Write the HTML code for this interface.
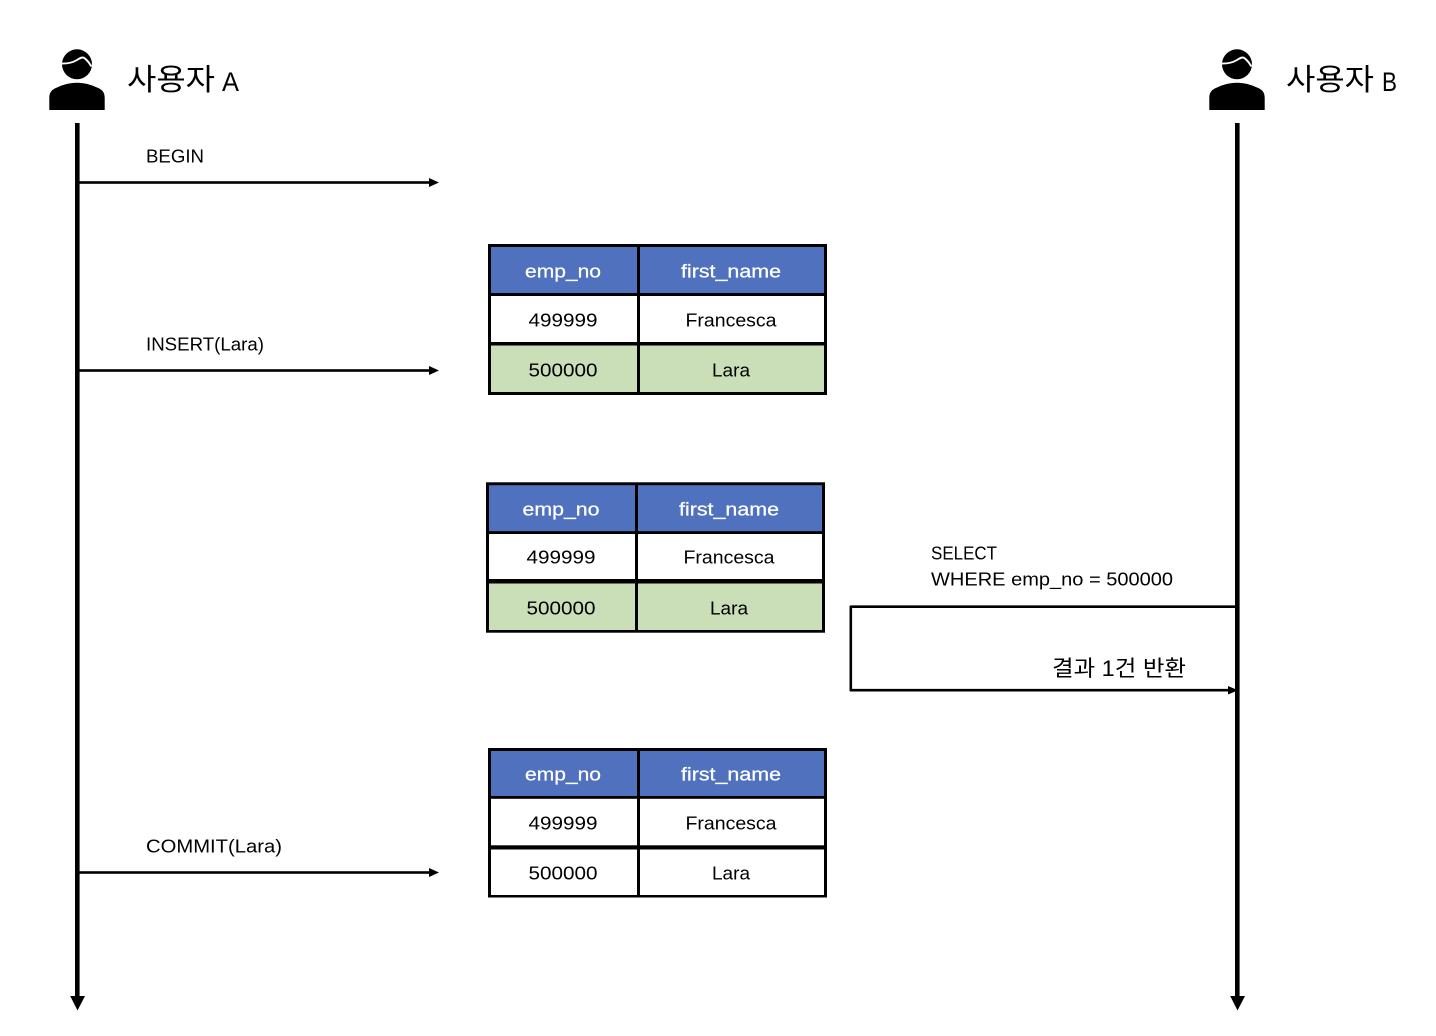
<!DOCTYPE html>
<html>
<head>
<meta charset="utf-8">
<style>
html,body{margin:0;padding:0;background:#fff;width:1436px;height:1036px;overflow:hidden}
svg{display:block}
text{font-family:"Liberation Sans","Noto Sans CJK KR",sans-serif;fill:#000}
.t{font-size:18.5px}
.c{font-size:18.5px;text-anchor:middle}
.h{font-size:18.5px;text-anchor:middle;fill:#fff;stroke:#fff;stroke-width:.25px}
.k{font-size:30px}
.l{font-size:27px}
</style>
</head>
<body>
<svg width="1436" height="1036" viewBox="0 0 1436 1036" xmlns="http://www.w3.org/2000/svg">
<defs>
<g id="person">
<circle cx="77" cy="64.3" r="15"/>
<path d="M49.3 110V98C49.3 92 52 89.5 57 87.5C63 84.5 70 82.7 77 82.7C84 82.7 91 84.5 97 87.5C102 89.5 104.7 92 104.7 98V110Z"/>
<path d="M62 63.6C68 63.6 73 62.5 77 60C80 58 82 56.8 84 57.8C86.5 59.5 89 62.5 91.5 66.5" fill="none" stroke="#fff" stroke-width="1.9"/>
</g>
</defs>

<!-- actors -->
<use href="#person"/>
<use href="#person" x="1160"/>
<text class="k" x="127" y="90" textLength="88" lengthAdjust="spacingAndGlyphs">사용자</text>
<text class="l" x="222" y="91" textLength="17" lengthAdjust="spacingAndGlyphs">A</text>
<text class="k" x="1286" y="90" textLength="88" lengthAdjust="spacingAndGlyphs">사용자</text>
<text class="l" x="1382" y="91" textLength="15" lengthAdjust="spacingAndGlyphs">B</text>

<!-- lifelines -->
<rect x="75" y="123" width="4.6" height="875"/>
<path d="M70.2 996H85L77.5 1010.5Z"/>
<rect x="1235" y="123" width="4.6" height="875"/>
<path d="M1230.2 996H1245L1237.5 1010.5Z"/>

<!-- arrows from A -->
<g>
<rect x="78" y="181.2" width="353" height="2.6"/><path d="M429 178L439 182.5L429 187Z"/>
<rect x="78" y="369.2" width="353" height="2.6"/><path d="M429 366L439 370.5L429 375Z"/>
<rect x="78" y="871.2" width="353" height="2.6"/><path d="M429 868L439 872.5L429 877Z"/>
</g>
<text class="t" x="146" y="162.5" textLength="58" lengthAdjust="spacingAndGlyphs">BEGIN</text>
<text class="t" x="146" y="350.5" textLength="118" lengthAdjust="spacingAndGlyphs">INSERT(Lara)</text>
<text class="t" x="146" y="852.5" textLength="136" lengthAdjust="spacingAndGlyphs">COMMIT(Lara)</text>

<!-- table 1 -->
<rect x="488" y="244" width="339" height="151"/>
<rect x="491" y="247" width="146" height="46" fill="#4f71be"/>
<rect x="640" y="247" width="184" height="46" fill="#4f71be"/>
<rect x="491" y="296" width="146" height="46" fill="#fff"/>
<rect x="640" y="296" width="184" height="46" fill="#fff"/>
<rect x="491" y="345.5" width="146" height="46.5" fill="#cadeb8"/>
<rect x="640" y="345.5" width="184" height="46.5" fill="#cadeb8"/>
<text class="h" x="563" y="277.5" textLength="76" lengthAdjust="spacingAndGlyphs">emp_no</text>
<text class="h" x="731" y="277.5" textLength="100" lengthAdjust="spacingAndGlyphs">first_name</text>
<text class="c" x="563" y="326.5" textLength="69" lengthAdjust="spacingAndGlyphs">499999</text>
<text class="c" x="731" y="326.5" textLength="91" lengthAdjust="spacingAndGlyphs">Francesca</text>
<text class="c" x="563" y="376.5" textLength="69" lengthAdjust="spacingAndGlyphs">500000</text>
<text class="c" x="731" y="376.5" textLength="38" lengthAdjust="spacingAndGlyphs">Lara</text>

<!-- table 2 -->
<rect x="486" y="482.3" width="339" height="150.4"/>
<rect x="489" y="485.2" width="146" height="46" fill="#4f71be"/>
<rect x="638" y="485.2" width="184" height="46" fill="#4f71be"/>
<rect x="489" y="534" width="146" height="45" fill="#fff"/>
<rect x="638" y="534" width="184" height="45" fill="#fff"/>
<rect x="489" y="583.5" width="146" height="46.5" fill="#cadeb8"/>
<rect x="638" y="583.5" width="184" height="46.5" fill="#cadeb8"/>
<text class="h" x="561" y="515.5" textLength="77" lengthAdjust="spacingAndGlyphs">emp_no</text>
<text class="h" x="729" y="515.5" textLength="100" lengthAdjust="spacingAndGlyphs">first_name</text>
<text class="c" x="561" y="563.5" textLength="69" lengthAdjust="spacingAndGlyphs">499999</text>
<text class="c" x="729" y="563.5" textLength="91" lengthAdjust="spacingAndGlyphs">Francesca</text>
<text class="c" x="561" y="614.5" textLength="69" lengthAdjust="spacingAndGlyphs">500000</text>
<text class="c" x="729" y="614.5" textLength="38" lengthAdjust="spacingAndGlyphs">Lara</text>

<!-- table 3 -->
<rect x="488" y="748" width="339" height="149.5"/>
<rect x="491" y="751" width="146" height="45" fill="#4f71be"/>
<rect x="640" y="751" width="184" height="45" fill="#4f71be"/>
<rect x="491" y="798.8" width="146" height="46.5" fill="#fff"/>
<rect x="640" y="798.8" width="184" height="46.5" fill="#fff"/>
<rect x="491" y="849.5" width="146" height="45.5" fill="#fff"/>
<rect x="640" y="849.5" width="184" height="45.5" fill="#fff"/>
<text class="h" x="563" y="780.5" textLength="76" lengthAdjust="spacingAndGlyphs">emp_no</text>
<text class="h" x="731" y="780.5" textLength="100" lengthAdjust="spacingAndGlyphs">first_name</text>
<text class="c" x="563" y="829.5" textLength="69" lengthAdjust="spacingAndGlyphs">499999</text>
<text class="c" x="731" y="829.5" textLength="91" lengthAdjust="spacingAndGlyphs">Francesca</text>
<text class="c" x="563" y="879.5" textLength="69" lengthAdjust="spacingAndGlyphs">500000</text>
<text class="c" x="731" y="879.5" textLength="38" lengthAdjust="spacingAndGlyphs">Lara</text>

<!-- select / result -->
<path d="M1236 606.7H850.8V690.2H1230" fill="none" stroke="#000" stroke-width="2.6" stroke-linejoin="round"/>
<path d="M1228 686L1238 690.3L1228 694.5Z"/>
<text class="t" x="931" y="559.5" textLength="66" lengthAdjust="spacingAndGlyphs">SELECT</text>
<text class="t" x="931" y="585.5" textLength="242" lengthAdjust="spacingAndGlyphs">WHERE emp_no = 500000</text>
<text x="1052" y="676" style="font-size:22px" textLength="134" lengthAdjust="spacingAndGlyphs">결과 1건 반환</text>
</svg>
</body>
</html>
